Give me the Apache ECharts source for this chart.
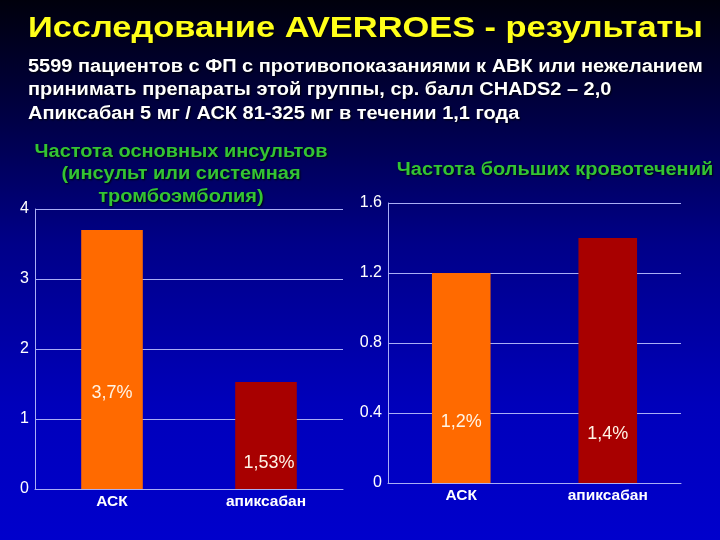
<!DOCTYPE html>
<html>
<head>
<meta charset="utf-8">
<script src="https://cdn.jsdelivr.net/npm/echarts@6/dist/echarts.min.js"></script>
<style>html,body{margin:0;padding:0;background:#000020;}#c{width:720px;height:540px;}</style>
</head>
<body>
<div id="c"></div>
<script>
var categories = ['АСК', 'апиксабан'];
var strokeValues = [3.7, 1.53];
var strokeLabels = ['3,7%', '1,53%'];
var bleedValues = [1.2, 1.4];
var bleedLabels = ['1,2%', '1,4%'];
var barColors = ['#ff6a00', '#a80000'];
var mainTitle = 'Исследование AVERROES - результаты';
var subtitleLines = [
  '5599 пациентов с ФП с противопоказаниями к АВК или нежеланием',
  'принимать препараты этой группы, ср. балл CHADS2 – 2,0',
  'Апиксабан 5 мг / АСК 81-325 мг в течении 1,1 года'
];
var leftTitleLines = ['Частота основных инсультов', '(инсульт или системная', 'тромбоэмболия)'];
var rightTitleLines = ['Частота больших кровотечений'];

var FONT = '"Liberation Sans", Arial, sans-serif';
var gridLine = '#a9aef5';

var chart = echarts.init(document.getElementById('c'));

function items(vals, labels, positions) {
  return vals.map(function (v, i) {
    return {
      value: v,
      itemStyle: { color: barColors[i] },
      label: { formatter: labels[i], position: positions[i] }
    };
  });
}

function textLine(str, x, y, size, color, align, sx) {
  return {
    type: 'text', x: x, y: y, scaleX: sx, silent: true, z: 10,
    style: {
      text: str, fill: color, font: 'bold ' + size + 'px ' + FONT,
      align: align, verticalAlign: 'middle',
      textShadowColor: 'rgba(0,0,0,0.9)', textShadowBlur: 2, textShadowOffsetX: 1, textShadowOffsetY: 1
    }
  };
}

var graphics = [{
  type: 'rect', z: -10, silent: true,
  shape: { x: 0, y: 0, width: 720, height: 540 },
  style: {
    fill: new echarts.graphic.LinearGradient(0, 0, 0, 1, [
      { offset: 0, color: '#00000c' },
      { offset: 0.2, color: '#000040' },
      { offset: 0.45, color: '#000088' },
      { offset: 0.75, color: '#0000bb' },
      { offset: 1, color: '#0000cc' }
    ])
  }
}];
graphics.push(textLine(mainTitle, 28, 29, 30, '#ffff1a', 'left', 1.146));
subtitleLines.forEach(function (s, i) {
  graphics.push(textLine(s, 28, 67 + i * 23.3, 18, '#ffffff', 'left', 1.11));
});
leftTitleLines.forEach(function (s, i) {
  graphics.push(textLine(s, 181, 152 + i * 22.5, 18, '#33c433', 'center', 1.11));
});
rightTitleLines.forEach(function (s, i) {
  graphics.push(textLine(s, 555, 170 + i * 22.5, 18, '#33c433', 'center', 1.11));
});

chart.setOption({
  animation: false,
  graphic: graphics,
  grid: [
    { left: 35, right: 377, top: 209, bottom: 51 },
    { left: 388, right: 39, top: 203, bottom: 57 }
  ],
  xAxis: [0, 1].map(function (g) {
    return {
      type: 'category', gridIndex: g, data: categories,
      axisLine: { lineStyle: { color: gridLine, width: 1 } },
      axisTick: { show: false },
      axisLabel: { color: '#ffffff', fontSize: 15.5, fontWeight: 'bold', fontFamily: FONT, margin: 5 }
    };
  }),
  yAxis: [
    { type: 'value', gridIndex: 0, min: 0, max: 4, interval: 1,
      axisLine: { show: true, lineStyle: { color: gridLine } },
      axisTick: { show: false },
      splitLine: { lineStyle: { color: gridLine, width: 1 } },
      axisLabel: { color: '#ffffff', fontSize: 16, fontFamily: FONT, margin: 6 } },
    { type: 'value', gridIndex: 1, min: 0, max: 1.6, interval: 0.4,
      axisLine: { show: true, lineStyle: { color: gridLine } },
      axisTick: { show: false },
      splitLine: { lineStyle: { color: gridLine, width: 1 } },
      axisLabel: { color: '#ffffff', fontSize: 16, fontFamily: FONT, margin: 6,
        formatter: function (v) { return v === 0 ? '0' : v.toFixed(1); } } }
  ],
  series: [
    { type: 'bar', xAxisIndex: 0, yAxisIndex: 0, barWidth: '40%',
      data: items(strokeValues, strokeLabels, [['50%', '63%'], ['55%', '76%']]),
      label: { show: true, color: '#fff4e6', fontSize: 18, fontFamily: FONT, align: 'center', verticalAlign: 'middle' } },
    { type: 'bar', xAxisIndex: 1, yAxisIndex: 1, barWidth: '40%',
      data: items(bleedValues, bleedLabels, [['50%', '71%'], ['50%', '80%']]),
      label: { show: true, color: '#fff4e6', fontSize: 18, fontFamily: FONT, align: 'center', verticalAlign: 'middle' } }
  ]
});
</script>
</body>
</html>
